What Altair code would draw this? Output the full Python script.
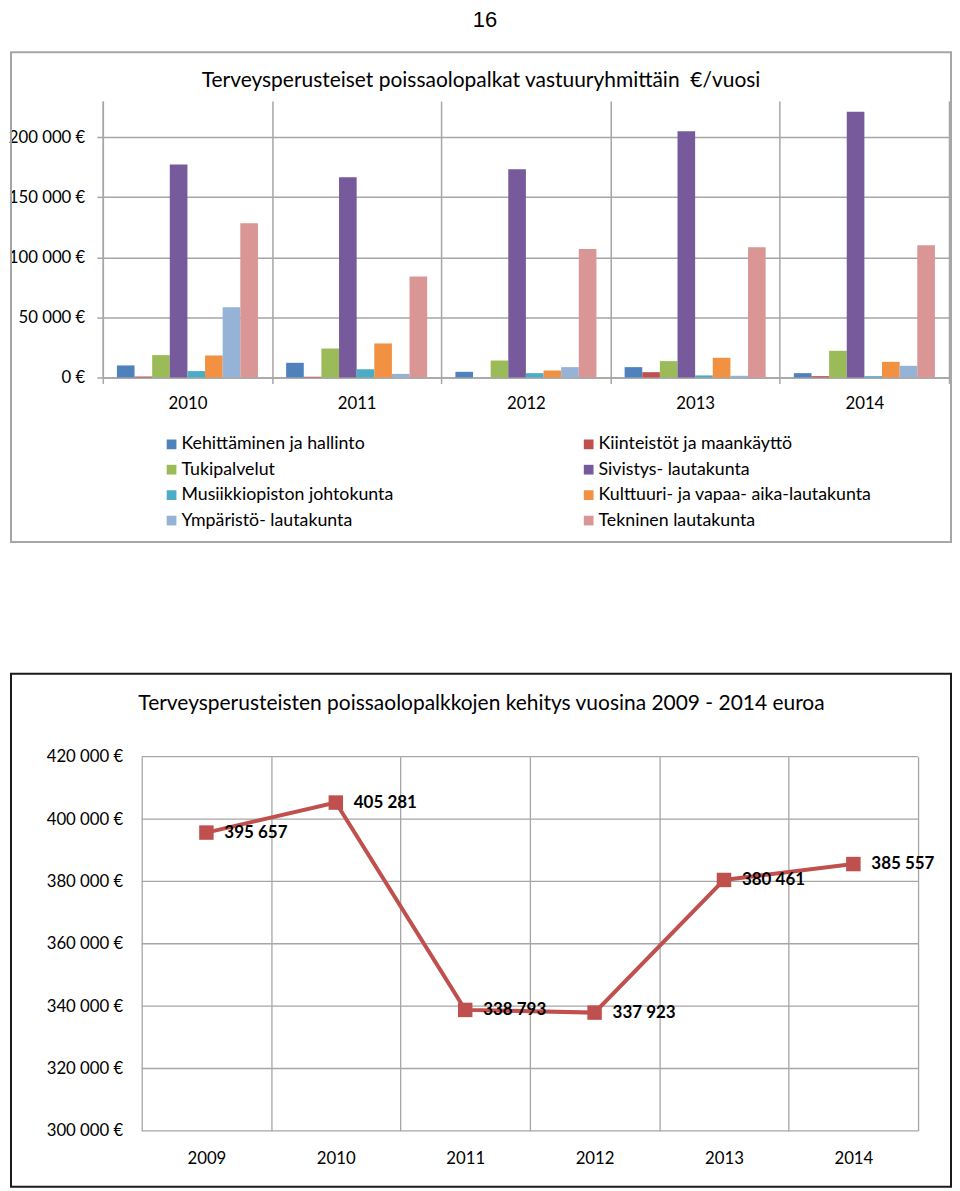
import altair as alt
import pandas as pd

# ---------------- data ----------------
years_bar = ['2010', '2011', '2012', '2013', '2014']
series = [
    'Kehittäminen ja hallinto',
    'Kiinteistöt ja maankäyttö',
    'Tukipalvelut',
    'Sivistys- lautakunta',
    'Musiikkiopiston johtokunta',
    'Kulttuuri- ja vapaa- aika-lautakunta',
    'Ympäristö- lautakunta',
    'Tekninen lautakunta',
]
colors = ['#4F81BD', '#C0504D', '#9BBB59', '#775A9C',
          '#4BACC6', '#F39143', '#95B3D7', '#D99694']

kehittaminen = [10000, 12200, 4700, 8600, 3600]
kiinteistot = [800, 600, 0, 4400, 1100]
tukipalvelut = [18600, 24100, 14100, 13600, 22200]
sivistys = [177200, 166700, 173300, 204900, 221000]
musiikki = [5300, 6900, 3600, 1700, 1100]
kulttuuri = [18300, 28300, 5800, 16400, 13000]
ymparisto = [58500, 3000, 8600, 1400, 9700]
tekninen = [128400, 84000, 106800, 108400, 110100]
bar_ticks = [0, 50000, 100000, 150000, 200000]

years_line = ['2009', '2010', '2011', '2012', '2013', '2014']
totals = [395657, 405281, 338793, 337923, 380461, 385557]
total_labels = ['395 657', '405 281', '338 793', '337 923', '380 461', '385 557']
line_ticks = [300000, 320000, 340000, 360000, 380000, 400000, 420000]

page_number = '16'
title_bar = 'Terveysperusteiset poissaolopalkat vastuuryhmittäin\u00a0 €/vuosi'
title_line = 'Terveysperusteisten poissaolopalkkojen kehitys vuosina 2009 - 2014 euroa'

# ---------------- tables ----------------
all_series = [kehittaminen, kiinteistot, tukipalvelut, sivistys,
              musiikki, kulttuuri, ymparisto, tekninen]
rows = []
for s, vals in zip(series, all_series):
    for y, v in zip(years_bar, vals):
        rows.append({'year': y, 'series': s, 'value': v})
bar_df = pd.DataFrame(rows)
line_df = pd.DataFrame({'year': years_line, 'total': totals, 'label': total_labels})
grid_df = pd.DataFrame({'total': line_ticks})
one = pd.DataFrame({'k': [0]})

# legend is laid out column by column: list entries so rows read like the original
legend_order = [series[i] for i in (0, 2, 4, 6, 1, 3, 5, 7)]
legend_colors = [colors[i] for i in (0, 2, 4, 6, 1, 3, 5, 7)]

FONT = 'Lato'
GRID = '#A6A6A6'
LBL = 16.8
euro_expr = "replace(format(datum.value, ','), ',', ' ') + ' €'"

# ---------------- bar chart ----------------
W1, H1 = 848, 277
frame1 = alt.Chart(one).mark_rect(fill='transparent', stroke='#A6A6A6', strokeWidth=2).encode(
    x=alt.value(-92), x2=alt.value(850), y=alt.value(-49), y2=alt.value(442))
pnum = alt.Chart(one).mark_text(font='Liberation Sans', fontSize=22, baseline='top',
                                align='center', color='black').encode(
    x=alt.value(383), y=alt.value(-91), text=alt.value(page_number))
t1 = alt.Chart(one).mark_text(font=FONT, fontSize=21, baseline='middle',
                              align='center', color='black').encode(
    x=alt.value(379), y=alt.value(-20), text=alt.value(title_bar))

bars = alt.Chart(bar_df).mark_bar().encode(
    x=alt.X('year:N', sort=years_bar,
            scale=alt.Scale(paddingInner=0, paddingOuter=0),
            axis=alt.Axis(title=None, tickBand='extent', grid=True, gridColor=GRID,
                          gridWidth=1.5, domainColor=GRID, domainWidth=1.5,
                          tickColor=GRID, tickWidth=1.5, tickSize=6, labelPadding=12,
                          labelFont=FONT, labelFontSize=LBL, labelColor='black',
                          labelAngle=0)),
    xOffset=alt.XOffset('series:N', sort=series,
                        scale=alt.Scale(domain=series, paddingInner=0, paddingOuter=0.8)),
    y=alt.Y('value:Q', scale=alt.Scale(domain=[0, 230000], nice=False),
            axis=alt.Axis(title=None, values=bar_ticks, labelExpr=euro_expr, grid=True,
                          gridColor=GRID, gridWidth=1.5, domainColor=GRID,
                          domainWidth=1.5, tickColor=GRID, tickWidth=1.5, tickSize=6,
                          labelPadding=12, labelFont=FONT, labelFontSize=LBL,
                          labelColor='black')),
    color=alt.Color('series:N', sort=legend_order,
                    scale=alt.Scale(domain=legend_order, range=legend_colors),
                    legend=alt.Legend(title=None, orient='none', legendX=60, legendY=335,
                                      columns=2, columnPadding=186, rowPadding=6.5,
                                      symbolType='square', symbolSize=95,
                                      symbolStrokeWidth=0, labelFont=FONT,
                                      labelFontSize=17.8, labelLimit=500,
                                      labelOffset=1, labelColor='black')),
)
chart1 = alt.layer(frame1, pnum, t1, bars).properties(width=W1, height=H1)

# ---------------- line chart ----------------
W2, H2 = 848, 375
X0, X1 = 39, 817
RED = '#C0504D'
frame2 = alt.Chart(one).mark_rect(fill='transparent', stroke='#1A1A1A', strokeWidth=2).encode(
    x=alt.value(-92), x2=alt.value(850), y=alt.value(-83), y2=alt.value(431))
t2 = alt.Chart(one).mark_text(font=FONT, fontSize=21, baseline='middle',
                              align='center', color='black').encode(
    x=alt.value(379.5), y=alt.value(-53), text=alt.value(title_line))

y2enc = alt.Y('total:Q', scale=alt.Scale(domain=[300000, 420000], nice=False, zero=False),
              axis=alt.Axis(title=None, values=line_ticks, labelExpr=euro_expr, grid=False,
                            domain=False, ticks=False, offset=-X0, labelPadding=19,
                            labelFont=FONT, labelFontSize=LBL, labelColor='black'))
x2enc = alt.X('year:N', sort=years_line,
              scale=alt.Scale(type='band', range=[X0, X1], paddingInner=0, paddingOuter=0),
              axis=alt.Axis(title=None, tickBand='extent', grid=True, gridColor=GRID,
                            gridWidth=1.3, domain=False, ticks=False, labelPadding=19.5,
                            labelFont=FONT, labelFontSize=LBL, labelColor='black',
                            labelAngle=0))

hgrid = alt.Chart(grid_df).mark_rule(color=GRID, strokeWidth=1.3).encode(
    y=y2enc, x=alt.value(X0), x2=alt.value(X1))
base2 = alt.Chart(line_df).encode(x=x2enc, y=y2enc)
line = base2.mark_line(color=RED, strokeWidth=4)
pts = base2.mark_point(shape='square', filled=True, size=210, color=RED, opacity=1)
lbl = base2.mark_text(align='left', baseline='middle', dx=18, font=FONT,
                      fontWeight='bold', fontSize=17, color='black').encode(
    text=alt.Text('label:N'))
chart2 = alt.layer(frame2, t2, hgrid, line, pts, lbl).properties(width=W2, height=H2)

chart = alt.vconcat(chart1, chart2, spacing=130).properties(
    padding=0, background='white'
).configure_view(strokeWidth=0)

chart.save("out.html", embed_options={"renderer": "svg", "actions": False})
